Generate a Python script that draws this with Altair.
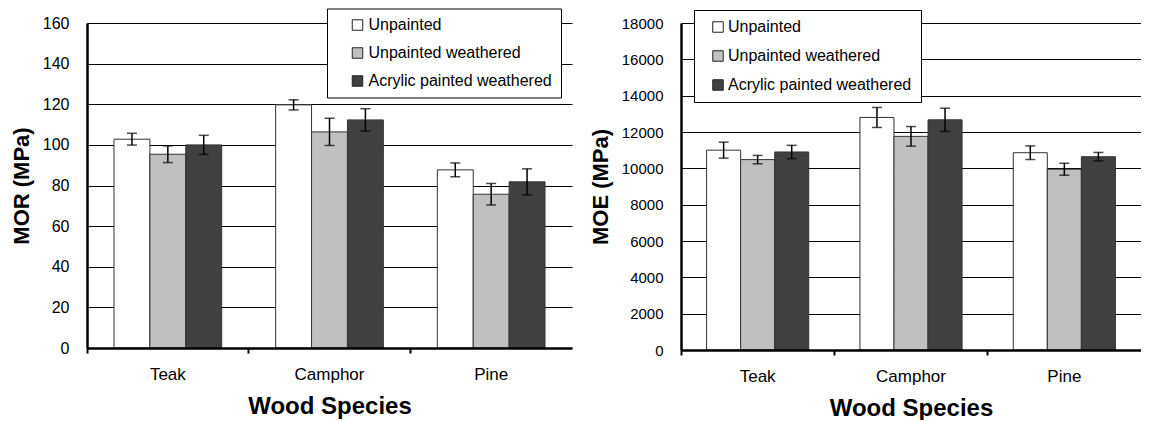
import altair as alt
import pandas as pd

species = ["Teak", "Camphor", "Pine"]
treatments = ["Unpainted", "Unpainted weathered", "Acrylic painted weathered"]
colors = ["#ffffff", "#c0c0c0", "#404040"]

# MOR (MPa)
mor_unpainted = [102.8, 119.7, 87.7]
mor_unpainted_err = [2.9, 2.5, 3.4]
mor_weathered = [95.4, 106.4, 75.7]
mor_weathered_err = [4.1, 6.7, 5.3]
mor_acrylic = [100.0, 112.3, 81.8]
mor_acrylic_err = [4.7, 5.5, 6.4]

# MOE (MPa)
moe_unpainted = [11000, 12800, 10860]
moe_unpainted_err = [440, 550, 375]
moe_weathered = [10480, 11760, 9950]
moe_weathered_err = [230, 540, 330]
moe_acrylic = [10900, 12670, 10640]
moe_acrylic_err = [365, 640, 236]

mor_ticks = [0, 20, 40, 60, 80, 100, 120, 140, 160]
moe_ticks = [0, 2000, 4000, 6000, 8000, 10000, 12000, 14000, 16000, 18000]

FONT = "Liberation Sans, Arial, sans-serif"


def make_df(series, errs):
    rows = []
    for t, vals, es in zip(treatments, series, errs):
        for s, v, e in zip(species, vals, es):
            rows.append({"species": s, "treatment": t, "value": v, "err": e})
    return pd.DataFrame(rows)


def panel(df, yticks, ytitle, width, height, yfs, xfs, lx, ly, leg_pad, leg_row,
          leg_symoff, leg_laboff):
    xenc = alt.X(
        "species:N", sort=species,
        scale=alt.Scale(paddingInner=0, paddingOuter=0),
        axis=alt.Axis(
            title="Wood Species", bandPosition=0,
            labelAngle=0, grid=False, domainColor="black", domainWidth=2.5,
            ticks=True, tickColor="black", tickWidth=2, tickSize=5,
            labelFont=FONT, labelFontSize=xfs, labelColor="black", labelPadding=13,
            titleFont=FONT, titleFontSize=24, titleFontWeight="bold",
            titleColor="black", titlePadding=12, zindex=1,
        ),
    )
    xoff = alt.XOffset("treatment:N", sort=treatments,
                       scale=alt.Scale(paddingInner=0, paddingOuter=0.752))
    yscale = alt.Scale(domain=[yticks[0], yticks[-1]], nice=False)
    yaxis = alt.Axis(
        title=ytitle, values=yticks, tickCount=len(yticks) + 10, format="d",
        grid=True, gridColor="black",
        gridWidth=1, gridOpacity=1, domainColor="black", domainWidth=2.5,
        ticks=False, tickSize=0, labelFont=FONT, labelFontSize=yfs,
        labelColor="black", labelPadding=18, labelOverlap=False,
        titleFont=FONT, titleFontSize=22, titleFontWeight="bold",
        titleColor="black", titlePadding=9,
    )
    base = alt.Chart(df).encode(x=xenc, xOffset=xoff)
    bars = base.mark_bar(stroke="#333333", strokeWidth=1).encode(
        y=alt.Y("value:Q", scale=yscale, axis=yaxis),
        color=alt.Color(
            "treatment:N", sort=treatments,
            scale=alt.Scale(domain=treatments, range=colors),
            legend=alt.Legend(
                title=None, orient="none", legendX=lx, legendY=ly,
                fillColor="white", strokeColor="black", padding=leg_pad,
                symbolType="square", symbolSize=110, symbolStrokeColor="#222222",
                symbolStrokeWidth=1, symbolOffset=leg_symoff,
                labelFont=FONT, labelFontSize=16, labelColor="black",
                labelOffset=leg_laboff, rowPadding=leg_row, labelLimit=400,
            ),
        ),
    )
    calc = base.transform_calculate(lo="datum.value - datum.err",
                                    hi="datum.value + datum.err")
    rule = calc.mark_rule(color="black", strokeWidth=1.5).encode(
        y=alt.Y("lo:Q", scale=yscale), y2="hi:Q")
    cap_lo = calc.mark_tick(color="black", thickness=1.5, size=10).encode(
        y=alt.Y("lo:Q", scale=yscale))
    cap_hi = calc.mark_tick(color="black", thickness=1.5, size=10).encode(
        y=alt.Y("hi:Q", scale=yscale))
    return alt.layer(bars, rule, cap_lo, cap_hi).properties(width=width, height=height)


left = panel(make_df([mor_unpainted, mor_weathered, mor_acrylic],
                     [mor_unpainted_err, mor_weathered_err, mor_acrylic_err]),
             mor_ticks, "MOR (MPa)", 485, 325, 16, 17, 240, -14.5, 8.5, 12, 14, 3)
right = panel(make_df([moe_unpainted, moe_weathered, moe_acrylic],
                      [moe_unpainted_err, moe_weathered_err, moe_acrylic_err]),
              moe_ticks, "MOE (MPa)", 460, 327, 15, 17, 13, -13, 9, 13, 7, 2)

chart = alt.hconcat(left, right, spacing=17).resolve_scale(
    color="independent", x="independent", y="independent", xOffset="independent"
).properties(
    padding={"left": 2, "top": 0, "right": 0, "bottom": 0},
    background="white",
).configure_view(stroke=None)

chart.save("out.html", embed_options={"renderer": "svg", "actions": False})
